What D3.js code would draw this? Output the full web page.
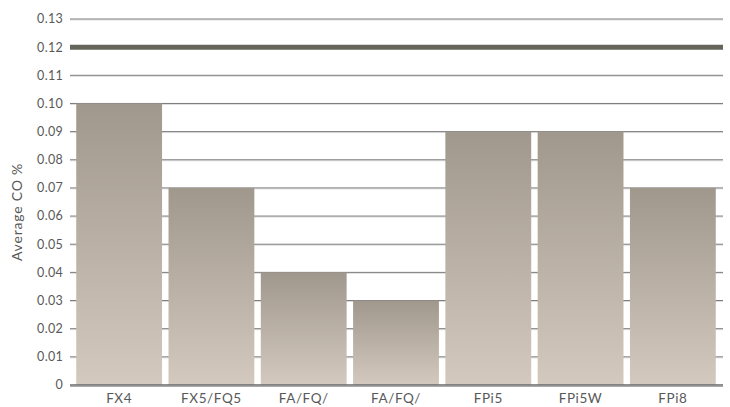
<!DOCTYPE html>
<html lang="en">
<head>
    <meta charset="UTF-8">
    <title>Average CO %</title>
    <style>
        body { margin: 0; background: #fff; }
        text { font-family: Lato, "Open Sans", sans-serif; fill: #595959; }
    </style>
</head>
<body>
    <div id="chart"></div>
    <script src="https://d3js.org/d3.v7.min.js"></script>
    <script>

        var categories = ["FX4", "FX5/FQ5", "FA/FQ/", "FA/FQ/", "FPi5", "FPi5W", "FPi8"];
        var values = [0.10, 0.07, 0.04, 0.03, 0.09, 0.09, 0.07];
        var yTicks = [0, 0.01, 0.02, 0.03, 0.04, 0.05, 0.06, 0.07, 0.08, 0.09, 0.10, 0.11, 0.12, 0.13];
        var limit = 0.12;

        var width = 730, height = 407;
        var plotLeft = 70, plotRight = 723, plotTop = 19, plotBottom = 385;

        var svg = d3.select("#chart").append("svg")
            .attr("width", width)
            .attr("height", height);

        var defs = svg.append("defs");
        var grad = defs.append("linearGradient")
            .attr("id", "barGrad")
            .attr("x1", 0).attr("y1", 0).attr("x2", 0).attr("y2", 1);
        grad.append("stop").attr("offset", "0%").attr("stop-color", "#a0978d");
        grad.append("stop").attr("offset", "100%").attr("stop-color", "#d3c9bf");

        var x = d3.scaleBand()
            .domain(d3.range(categories.length))
            .range([73, 719])
            .paddingInner(0.07)
            .paddingOuter(0.035);

        var y = d3.scaleLinear()
            .domain([0, 0.13])
            .range([plotBottom, plotTop]);

        var gridTicks = yTicks.filter(function(d) { return d > 0 && d !== limit; });

        // grid lines
        var grid = svg.append("g");
        grid.selectAll("line.shadow")
            .data(gridTicks)
            .enter().append("line")
            .attr("class", "shadow")
            .attr("x1", plotLeft).attr("x2", plotRight)
            .attr("y1", function(d) { return y(d) + 1; })
            .attr("y2", function(d) { return y(d) + 1; })
            .attr("stroke", "#ddd").attr("stroke-width", 1);
        grid.selectAll("line.grid")
            .data(gridTicks)
            .enter().append("line")
            .attr("class", "grid")
            .attr("x1", plotLeft).attr("x2", plotRight)
            .attr("y1", function(d) { return y(d); })
            .attr("y2", function(d) { return y(d); })
            .attr("stroke", "#7a7a7a").attr("stroke-width", 1);

        // bars
        svg.append("g").selectAll("rect")
            .data(values)
            .enter().append("rect")
            .attr("x", function(d, i) { return x(i); })
            .attr("y", function(d) { return y(d); })
            .attr("width", x.bandwidth())
            .attr("height", function(d) { return y(0) - y(d); })
            .attr("fill", "url(#barGrad)");

        // limit line
        svg.append("line")
            .attr("x1", plotLeft).attr("x2", plotRight)
            .attr("y1", y(limit)).attr("y2", y(limit))
            .attr("stroke", "#65655b").attr("stroke-width", 5);

        // baseline
        svg.append("line")
            .attr("x1", plotLeft).attr("x2", plotRight)
            .attr("y1", y(0) + 1.5).attr("y2", y(0) + 1.5)
            .attr("stroke", "#aaa").attr("stroke-width", 1);
        svg.append("line")
            .attr("x1", plotLeft).attr("x2", plotRight)
            .attr("y1", y(0)).attr("y2", y(0))
            .attr("stroke", "#6a6a6a").attr("stroke-width", 1.5);

        // y axis labels
        svg.append("g").selectAll("text")
            .data(yTicks)
            .enter().append("text")
            .attr("x", 63)
            .attr("y", function(d) { return y(d); })
            .attr("dy", "0.35em")
            .attr("text-anchor", "end")
            .style("font-size", "12.5px")
            .style("letter-spacing", "0.3px")
            .text(function(d) { return d === 0 ? "0" : d3.format(".2f")(d); });

        // x axis labels
        svg.append("g").selectAll("text")
            .data(categories)
            .enter().append("text")
            .attr("x", function(d, i) { return x(i) + x.bandwidth() / 2; })
            .attr("y", 403)
            .attr("text-anchor", "middle")
            .style("font-size", "13.5px")
            .style("letter-spacing", "0.6px")
            .text(function(d) { return d; });

        svg.append("text")
            .attr("transform", "translate(22,212) rotate(-90)")
            .attr("text-anchor", "middle")
            .style("font-size", "14px")
            .style("letter-spacing", "0.8px")
            .text("Average CO %");

    </script>
</body>
</html>
